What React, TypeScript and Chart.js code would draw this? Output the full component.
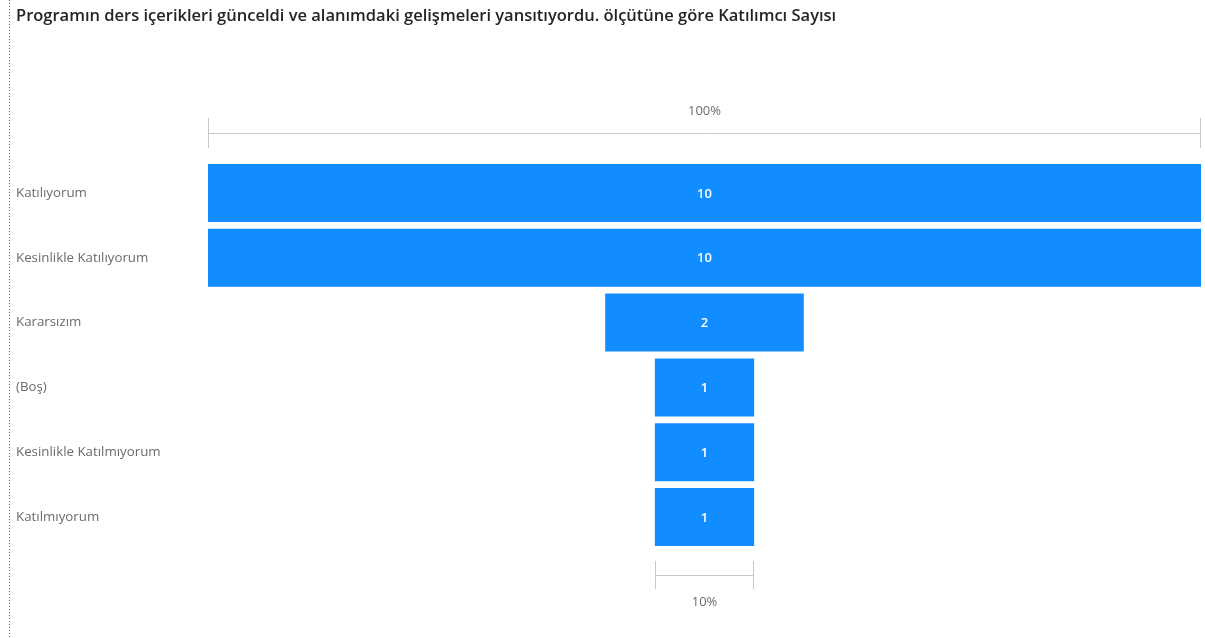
import React, { useEffect, useRef } from "react";
import { Chart, registerables } from "chart.js";

Chart.register(...registerables);

const TITLE =
  "Programın ders içerikleri günceldi ve alanımdaki gelişmeleri yansıtıyordu. ölçütüne göre Katılımcı Sayısı";
const categories = [
  "Katılıyorum",
  "Kesinlikle Katılıyorum",
  "Kararsızım",
  "(Boş)",
  "Kesinlikle Katılmıyorum",
  "Katılmıyorum",
];
const counts = [10, 10, 2, 1, 1, 1];

const BAR_COLOR = "#118DFF";
const LABEL_COLOR = "#6b6b6b";
const TITLE_COLOR = "#252423";
const BRACKET_COLOR = "#C8C8C8";
const FONT = "'Segoe UI', 'Open Sans', 'Noto Sans', sans-serif";

const funnelDecor = {
  id: "funnelDecor",
  beforeDraw(chart: any) {
    const ctx = chart.ctx;
    ctx.save();
    ctx.strokeStyle = "#6f6f6f";
    ctx.lineWidth = 1;
    ctx.setLineDash([1, 2]);
    ctx.beginPath();
    ctx.moveTo(9.5, 0);
    ctx.lineTo(9.5, chart.height);
    ctx.stroke();
    ctx.restore();
  },
  afterDatasetsDraw(chart: any) {
    const ctx = chart.ctx;
    const meta = chart.getDatasetMeta(0);
    const area = chart.chartArea;
    ctx.save();
    // value labels
    ctx.fillStyle = "#ffffff";
    ctx.font = `600 13px ${FONT}`;
    ctx.textAlign = "center";
    ctx.textBaseline = "middle";
    meta.data.forEach((bar: any, i: number) => {
      const p = bar.getProps(["x", "y", "base"], true);
      ctx.fillText(String(counts[i]), (p.x + p.base) / 2, p.y + 1);
    });

    const first = meta.data[0].getProps(["x", "base"], true);
    const last = meta.data[meta.data.length - 1].getProps(["x", "base"], true);
    const pctFirst = "100%";
    const pctLast = `${Math.round((counts[counts.length - 1] / counts[0]) * 100)}%`;

    const drawBracket = (l: number, r: number, y: number, tick: number) => {
      ctx.strokeStyle = BRACKET_COLOR;
      ctx.lineWidth = 1;
      ctx.beginPath();
      ctx.moveTo(Math.round(l) + 0.5, y - tick);
      ctx.lineTo(Math.round(l) + 0.5, y + tick);
      ctx.moveTo(Math.round(r) - 0.5, y - tick);
      ctx.lineTo(Math.round(r) - 0.5, y + tick);
      ctx.moveTo(l, y + 0.5);
      ctx.lineTo(r, y + 0.5);
      ctx.stroke();
    };

    ctx.fillStyle = LABEL_COLOR;
    ctx.font = `13px ${FONT}`;
    // top bracket
    const l1 = Math.min(first.x, first.base);
    const r1 = Math.max(first.x, first.base);
    const yTop = Math.round(area.top - 28);
    drawBracket(l1, r1, yTop, 15);
    ctx.fillText(pctFirst, (l1 + r1) / 2, yTop - 22);
    // bottom bracket
    const l2 = Math.min(last.x, last.base);
    const r2 = Math.max(last.x, last.base);
    const yBot = Math.round(area.bottom + 25);
    drawBracket(l2, r2, yBot, 14);
    ctx.fillText(pctLast, (l2 + r2) / 2, yBot + 27);
    ctx.restore();
  },
};

export default function App() {
  const ref = useRef<HTMLCanvasElement | null>(null);
  useEffect(() => {
    if (!ref.current) return;
    const chart = new Chart(ref.current, {
      type: "bar",
      data: {
        labels: categories,
        datasets: [
          {
            data: counts.map((v) => [-v / 2, v / 2]) as any,
            backgroundColor: BAR_COLOR,
            borderWidth: 0,
            categoryPercentage: 1,
            barPercentage: 0.895,
          },
        ],
      },
      options: {
        indexAxis: "y",
        responsive: false,
        animation: false,
        layout: { padding: { left: 16, right: 4, top: 0, bottom: 88.5 } },
        scales: {
          x: {
            display: false,
            min: -Math.max(...counts) / 2,
            max: Math.max(...counts) / 2,
          },
          y: {
            grid: { display: false },
            border: { display: false },
            ticks: {
              color: LABEL_COLOR,
              font: { size: 13.3, family: FONT },
              crossAlign: "far",
              padding: 0,
            },
            afterFit(scale: any) {
              scale.width = 192;
            },
          },
        },
        plugins: {
          legend: { display: false },
          tooltip: { enabled: false },
          title: {
            display: true,
            text: TITLE,
            align: "start",
            color: TITLE_COLOR,
            font: { size: 16.5, weight: "600", family: FONT },
            padding: { top: 6.1, bottom: 134.6 },
          },
        },
      },
      plugins: [funnelDecor],
    });
    return () => chart.destroy();
  }, []);
  return (
    <canvas
      ref={ref}
      width={1205}
      height={638}
      style={{ position: "fixed", left: 0, top: 0, display: "block" }}
    />
  );
}
